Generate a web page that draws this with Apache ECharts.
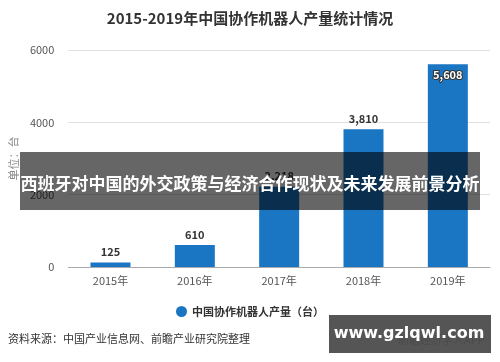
<!DOCTYPE html>
<html><head><meta charset="utf-8">
<script src="https://cdn.jsdelivr.net/npm/echarts@6/dist/echarts.min.js"></script>
<style>html,body{margin:0;padding:0;background:#fff}#c{width:500px;height:362px}</style>
</head><body><div id="c"></div>
<script>
var categories = ['2015年','2016年','2017年','2018年','2019年'];
var values = [125, 610, 2218, 3810, 5608];
var yTicks = [0, 2000, 4000, 6000];
var seriesName = '中国协作机器人产量（台）';
var FONT = '"Noto Sans CJK SC","Noto Sans",sans-serif';
var chart = echarts.init(document.getElementById('c'));
chart.setOption({
  animation: false,
  title: {text: '2015-2019年中国协作机器人产量统计情况', left: 'center', top: 6,
    textStyle: {fontSize: 15, fontWeight: 'bold', color: '#333', fontFamily: FONT}},
  grid: {left: 63, right: 10, top: 50, bottom: 95},
  legend: {data: [seriesName], bottom: 40, left: 'center', icon: 'circle', itemWidth: 11, itemHeight: 11,
    textStyle: {fontSize: 11, fontWeight: 'bold', color: '#333', fontFamily: FONT}},
  xAxis: {type: 'category', data: categories,
    axisLine: {lineStyle: {color: '#aaa'}},
    axisTick: {alignWithLabel: true, length: 4, lineStyle: {color: '#aaa'}},
    axisLabel: {fontSize: 11, color: '#555', margin: 8, fontFamily: FONT}},
  yAxis: {type: 'value', min: 0, max: 6000, interval: 2000,
    name: '单位：台', nameLocation: 'middle', nameRotate: 90, nameGap: 42,
    nameTextStyle: {fontSize: 11, color: '#888', fontFamily: FONT},
    axisLabel: {fontSize: 11, color: '#555', margin: 14, fontFamily: FONT,
      formatter: function (v) { return yTicks.indexOf(v) >= 0 ? String(v) : ''; }},
    splitLine: {lineStyle: {color: '#e0e0e0'}}},
  series: [{
    name: seriesName, type: 'bar', barWidth: 40,
    data: values.map(function (v, i) {
      if (i === values.length - 1) return {value: v, label: {position: 'insideTop', color: '#fff', textBorderColor: '#333', textBorderWidth: 2, distance: 5}};
      return v;
    }),
    itemStyle: {color: '#1a75c2'},
    label: {show: true, position: 'top', fontSize: 11, fontWeight: 'bold', color: '#333', fontFamily: FONT,
      formatter: function (p) { return p.value.toLocaleString('en-US'); }},
    emphasis: {disabled: true}
  }],
  graphic: [
    {type: 'text', z: 100, left: 8, top: 333, style: {text: '资料来源：中国产业信息网、前瞻产业研究院整理', fontSize: 11, fill: '#333', fontFamily: FONT}},
    {type: 'text', z: 100, left: 398, top: 334, style: {text: '前瞻经济学人APP', fontSize: 11, fill: '#777', fontFamily: FONT}},
    {type: 'rect', z: 101, shape: {x: 329, y: 315, width: 162, height: 38}, style: {fill: 'rgba(70,70,70,0.92)'}},
    {type: 'text', z: 102, x: 409, y: 334, style: {text: 'www.gzlqwl.com', fontSize: 16, fontWeight: 'bold', fill: '#fff', align: 'center', verticalAlign: 'middle', fontFamily: '"DejaVu Sans",sans-serif'}},
    {type: 'rect', z: 101, shape: {x: 20, y: 152, width: 460, height: 58}, style: {fill: 'rgba(0,0,0,0.6)'}},
    {type: 'text', z: 102, x: 250, y: 184, style: {text: '西班牙对中国的外交政策与经济合作现状及未来发展前景分析', fontSize: 17, fontWeight: 'bold', fill: '#fff', align: 'center', verticalAlign: 'middle', fontFamily: FONT}}
  ]
});
</script></body></html>
